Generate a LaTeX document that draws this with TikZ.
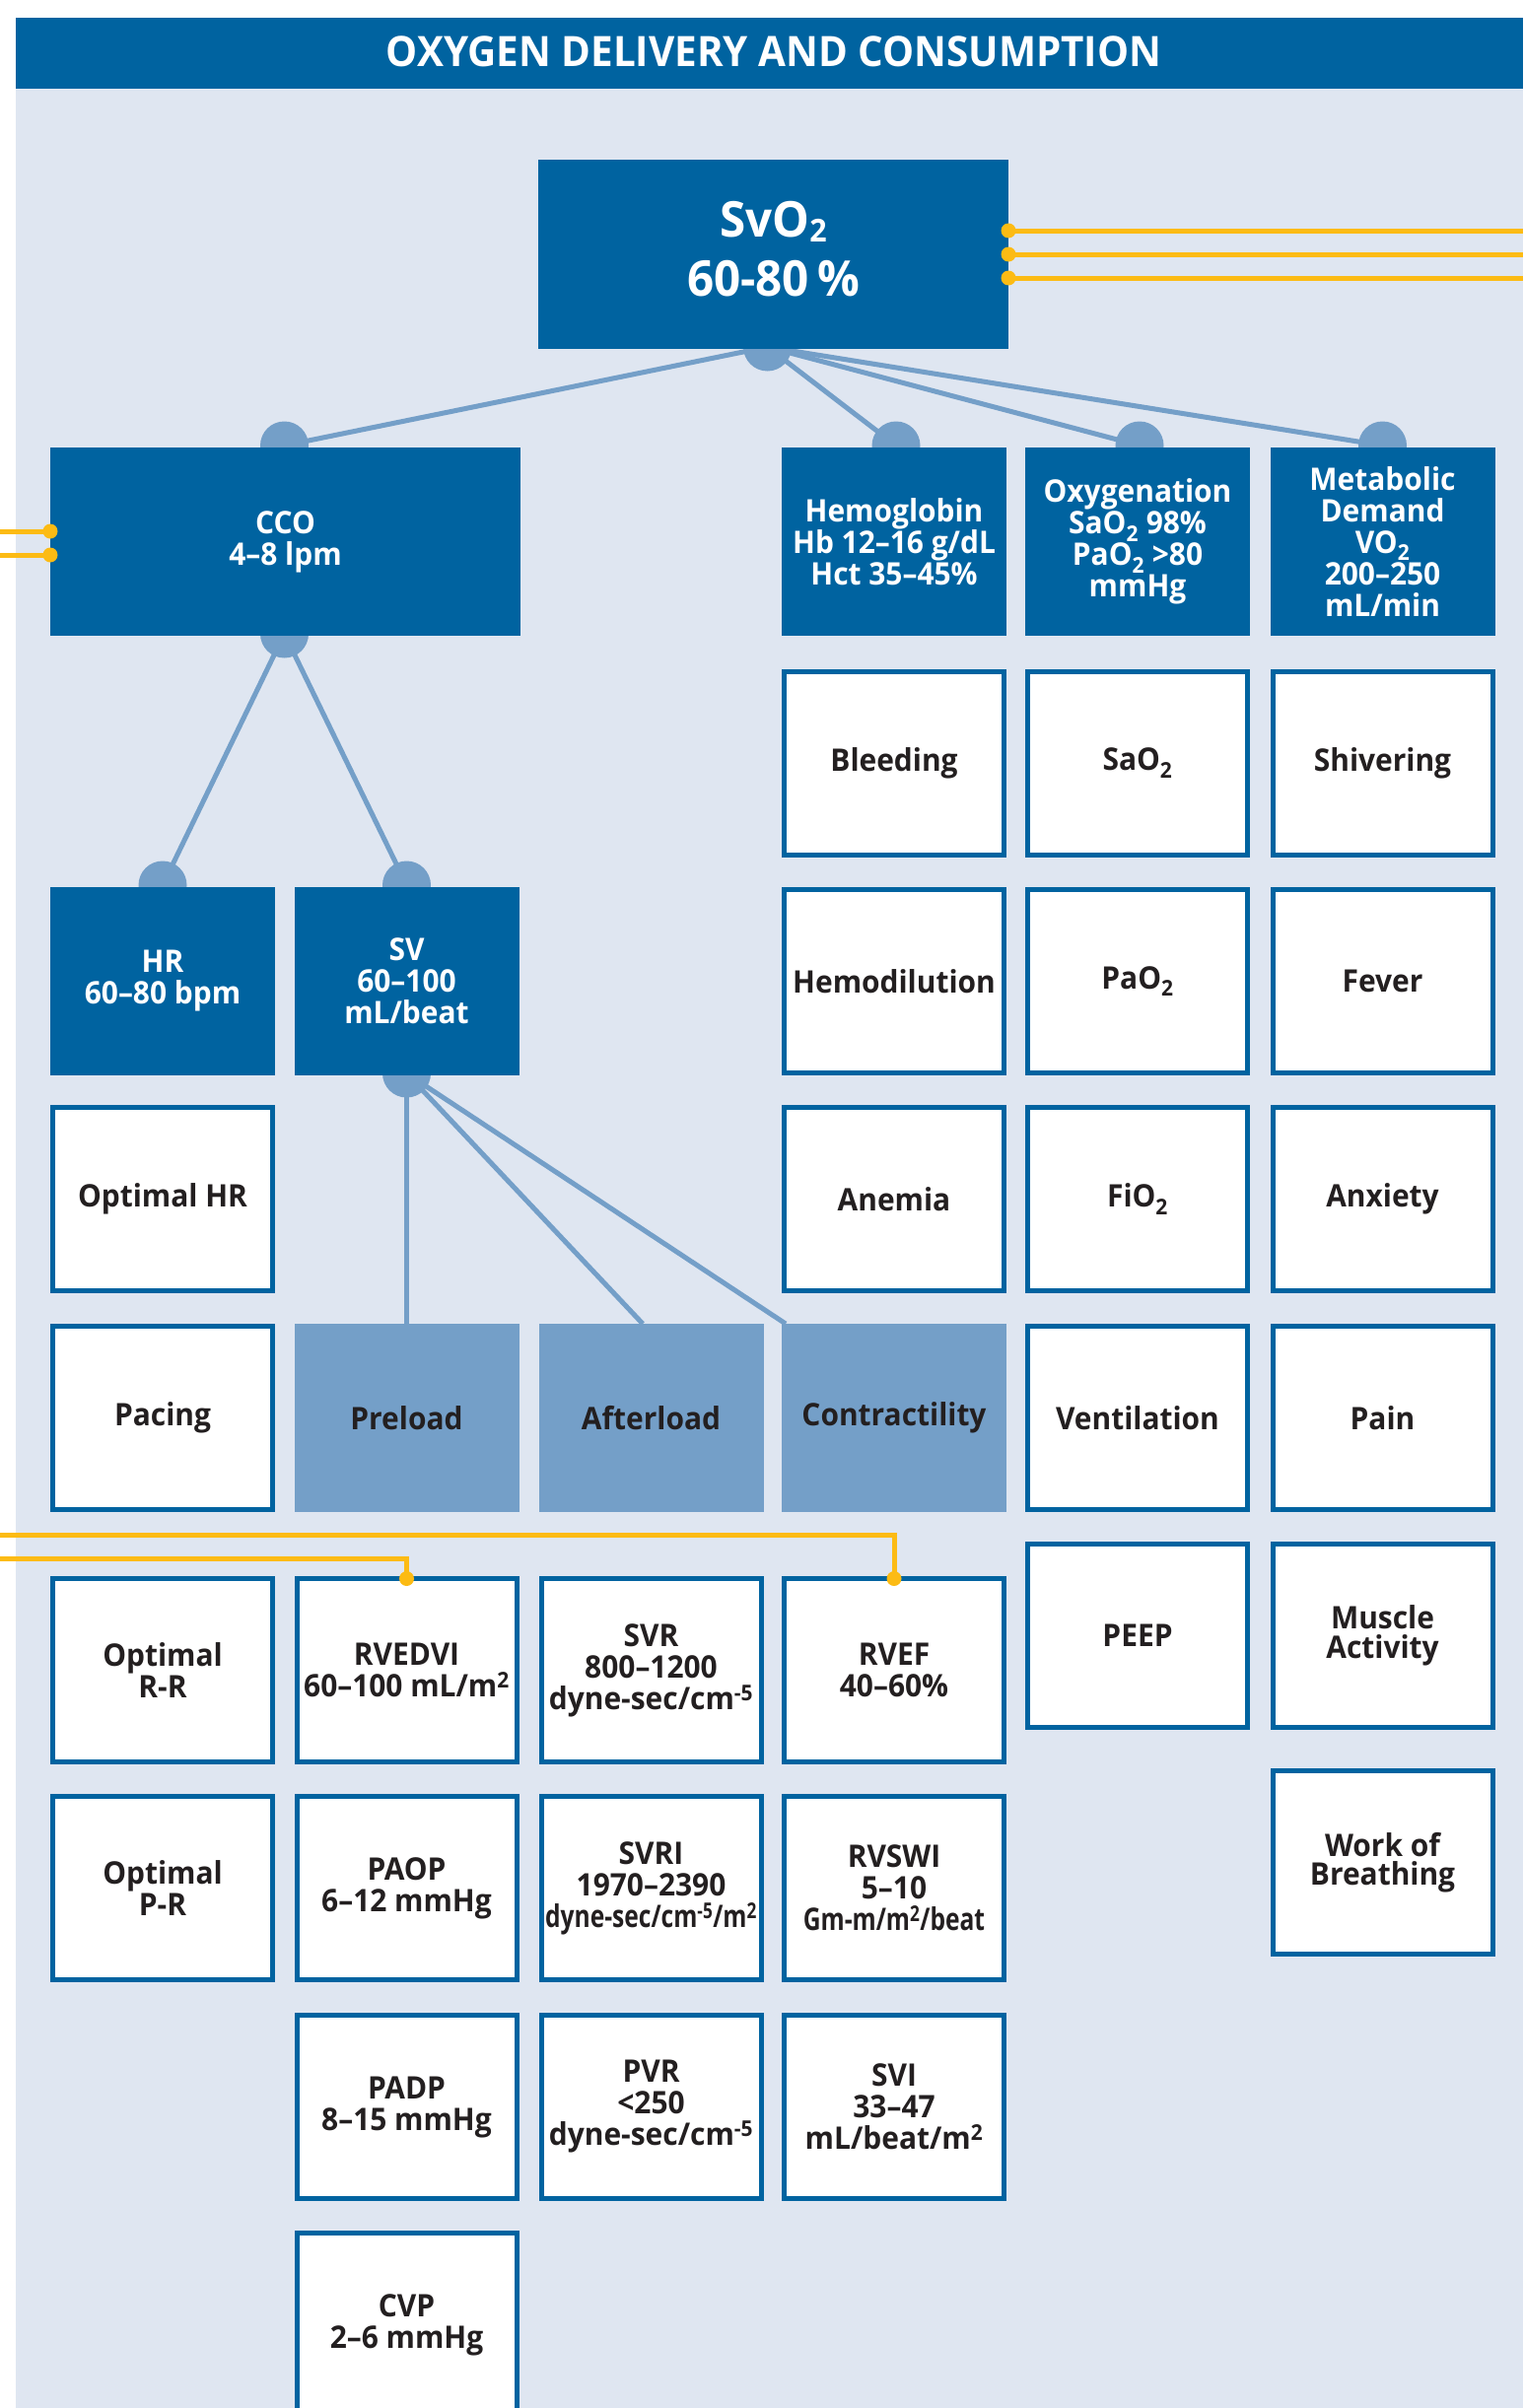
\documentclass[tikz,border=0pt]{standalone}
\usepackage{fontspec}
\setmainfont{Open Sans}[FakeStretch=0.95]
\newfontfamily\condfont{Open Sans}[FakeStretch=0.78]
\usetikzlibrary{calc}
\pgfdeclarelayer{bglayer}
\pgfdeclarelayer{connlayer}
\pgfsetlayers{bglayer,connlayer,main}
\definecolor{dkblue}{RGB}{0,99,160}
\definecolor{midblue}{RGB}{116,159,200}
\definecolor{bgblue}{RGB}{223,230,241}
\definecolor{gold}{RGB}{252,187,20}
\definecolor{ink}{RGB}{35,31,32}
\newcommand\bxfont{\bfseries\fontsize{31.5}{32}\selectfont}
\newcommand\tightfont{\bfseries\fontsize{31.5}{29.5}\selectfont}
\newcommand\titlefont{\bfseries\fontsize{42.5}{43}\selectfont}
\newcommand\bigfont{\bfseries\fontsize{50}{60}\selectfont}
\newcommand\subx[1]{\textsubscript{#1}}
\newcommand\supx[1]{\textsuperscript{#1}}
\newcommand\bigsub[1]{\raisebox{-5pt}{\fontsize{32}{32}\selectfont #1}}
\begin{document}
\begin{tikzpicture}[x=1pt,y=-1pt,
  base/.style={inner sep=0pt, outer sep=0pt, align=center, font=\bxfont},
  darkbox/.style={base, fill=dkblue, text=white, minimum width=228pt, minimum height=191pt},
  widebox/.style={darkbox, minimum width=477pt},
  whitebox/.style={base, fill=white, draw=dkblue, line width=5pt, text=ink, minimum width=223pt, minimum height=186pt},
  midbox/.style={base, fill=midblue, text=ink, minimum width=228pt, minimum height=191pt},
  tight/.style={font=\tightfont},
  link/.style={draw=midblue, line width=5pt},
  joint/.style={fill=midblue},
  wire/.style={draw=gold, line width=5pt},
  tap/.style={fill=gold}]
\useasboundingbox (0,0) rectangle (1545,2443);
\begin{pgfonlayer}{bglayer}
\fill[white] (0,0) rectangle (1545,2443);
\fill[bgblue] (16,89) rectangle (1545,2443);
\fill[dkblue] (16,18) rectangle (1545,90);
\end{pgfonlayer}
\node[base, text=white, font=\titlefont] (title) at (785,52) {OXYGEN DELIVERY AND CONSUMPTION};

% top level
\node[widebox, minimum height=192pt] (svo2) at (784.5,258) {};
\node[base, text=white, font=\bigfont] (svo2txt) at ([yshift=5pt]svo2.center) {SvO\bigsub{2}\\60-80\,\%};
\node[widebox] (cco) at (289.5,549.5) {CCO\\4–8 lpm};
\node[darkbox] (hemo) at (907,549.5) {Hemoglobin\\Hb 12–16 g/dL\\Hct 35–45\%};
\node[darkbox] (oxy) at (1154,549.5) {Oxygenation\\SaO\subx{2} 98\%\\PaO\subx{2} >80\\mmHg};
\node[darkbox] (meta) at (1402.5,549.5) {Metabolic\\Demand\\VO\subx{2}\\200–250\\mL/min};

% row 2
\node[whitebox] (bleed) at (907,774) {Bleeding};
\node[whitebox] (sao2) at (1154,774) {SaO\subx{2}};
\node[whitebox] (shiv) at (1402.5,774) {Shivering};

% row 3
\node[darkbox] (hr) at (165,995.5) {HR\\60–80 bpm};
\node[darkbox] (sv) at (412.5,995.5) {SV\\60–100\\mL/beat};
\node[whitebox] (hemod) at (907,995.5) {Hemodilution};
\node[whitebox] (pao2) at (1154,995.5) {PaO\subx{2}};
\node[whitebox] (fever) at (1402.5,995.5) {Fever};

% row 4
\node[whitebox] (opthr) at (165,1216.5) {Optimal HR};
\node[whitebox] (anemia) at (907,1216.5) {Anemia};
\node[whitebox] (fio2) at (1154,1216.5) {FiO\subx{2}};
\node[whitebox] (anx) at (1402.5,1216.5) {Anxiety};

% row 5
\node[whitebox] (pacing) at (165,1438.5) {Pacing};
\node[midbox] (pre) at (412.5,1438.5) {Preload};
\node[midbox] (aft) at (660.5,1438.5) {Afterload};
\node[midbox] (con) at (907,1438.5) {Contractility};
\node[whitebox] (vent) at (1154,1438.5) {Ventilation};
\node[whitebox] (pain) at (1402.5,1438.5) {Pain};

% row 6
\node[whitebox, tight] (optrr) at (165,1694.5) {Optimal\\R-R};
\node[whitebox] (rvedvi) at (412.5,1694.5) {RVEDVI\\60–100 mL/m\supx{2}};
\node[whitebox] (svr) at (660.5,1694.5) {SVR\\800–1200\\dyne-sec/cm\supx{-5}};
\node[whitebox] (rvef) at (907,1694.5) {RVEF\\40–60\%};
\node[whitebox] (peep) at (1154,1659.5) {PEEP};
\node[whitebox, tight] (muscle) at (1402.5,1659.5) {Muscle\\Activity};

% row 7
\node[whitebox, tight] (optpr) at (165,1915.5) {Optimal\\P-R};
\node[whitebox] (paop) at (412.5,1915.5) {PAOP\\6–12 mmHg};
\node[whitebox] (svri) at (660.5,1915.5) {SVRI\\1970–2390\\{\condfont dyne-sec/cm\supx{-5}/m\supx{2}}};
\node[whitebox] (rvswi) at (907,1915.5) {RVSWI\\5–10\\{\condfont Gm-m/m\supx{2}/beat}};
\node[whitebox, tight] (wob) at (1402.5,1889.5) {Work of\\Breathing};

% row 8, 9
\node[whitebox] (padp) at (412.5,2137.5) {PADP\\8–15 mmHg};
\node[whitebox] (pvr) at (660.5,2137.5) {PVR\\<250\\dyne-sec/cm\supx{-5}};
\node[whitebox] (svi) at (907,2137.5) {SVI\\33–47\\mL/beat/m\supx{2}};
\node[whitebox] (cvp) at (412.5,2358.5) {CVP\\2–6 mmHg};

% joints
\coordinate (j-svo2) at ([xshift=-6pt,yshift=2pt]svo2.south);
\coordinate (j-cco-t) at ([xshift=-1pt,yshift=2pt]cco.north);
\coordinate (j-cco-b) at ([xshift=-1pt,yshift=2pt]cco.south);
\coordinate (j-hemo) at ([xshift=2pt,yshift=2pt]hemo.north);
\coordinate (j-oxy) at ([xshift=2pt,yshift=2pt]oxy.north);
\coordinate (j-meta) at ([yshift=2pt]meta.north);
\coordinate (j-hr) at ([yshift=2pt]hr.north);
\coordinate (j-sv-t) at ([yshift=2pt]sv.north);
\coordinate (j-sv-b) at ([yshift=2pt]sv.south);
\coordinate (aft-in) at ([xshift=-8.5pt]aft.north);
\coordinate (con-in) at ([xshift=4pt]con.north west);

\begin{pgfonlayer}{connlayer}
\draw[link] (j-svo2) -- (j-cco-t);
\draw[link] (j-svo2) -- (j-hemo);
\draw[link] (j-svo2) -- (j-oxy);
\draw[link] (j-svo2) -- (j-meta);
\draw[link] (j-cco-b) -- (j-hr);
\draw[link] (j-cco-b) -- (j-sv-t);
\draw[link] (j-sv-b) -- (pre.north);
\draw[link] (j-sv-b) -- (aft-in);
\draw[link] (j-sv-b) -- (con-in);
\foreach \j in {j-svo2,j-cco-t,j-cco-b,j-hemo,j-oxy,j-meta,j-hr,j-sv-t,j-sv-b}
  \fill[joint] (\j) circle[radius=24.5pt];
\end{pgfonlayer}

% yellow wires
\coordinate (edgeL) at (0,0);
\coordinate (edgeR) at (1545,0);
\coordinate (w1a) at ([yshift=24pt]svo2.east);
\coordinate (w2a) at (svo2.east);
\coordinate (w3a) at ([yshift=-24pt]svo2.east);
\coordinate (w1b) at (w1a -| edgeR);
\coordinate (w2b) at (w2a -| edgeR);
\coordinate (w3b) at (w3a -| edgeR);
\draw[wire] (w1a) -- (w1b);
\draw[wire] (w2a) -- (w2b);
\draw[wire] (w3a) -- (w3b);
\coordinate (c1a) at ([yshift=10.5pt]cco.west);
\coordinate (c2a) at ([yshift=-13.5pt]cco.west);
\coordinate (c1b) at (c1a -| edgeL);
\coordinate (c2b) at (c2a -| edgeL);
\draw[wire] (c1b) -- (c1a);
\draw[wire] (c2b) -- (c2a);
\coordinate (l1s) at (0,1557);
\coordinate (l2s) at (0,1581);
\coordinate (l1k) at (rvef.north |- l1s);
\coordinate (l2k) at (rvedvi.north |- l2s);
\draw[wire] (l1s) -- (l1k) -- (rvef.north);
\draw[wire] (l2s) -- (l2k) -- (rvedvi.north);
\foreach \t in {w1a,w2a,w3a,c1a,c2a,rvef.north,rvedvi.north}
  \fill[tap] (\t) circle[radius=7.5pt];
\end{tikzpicture}
\end{document}
